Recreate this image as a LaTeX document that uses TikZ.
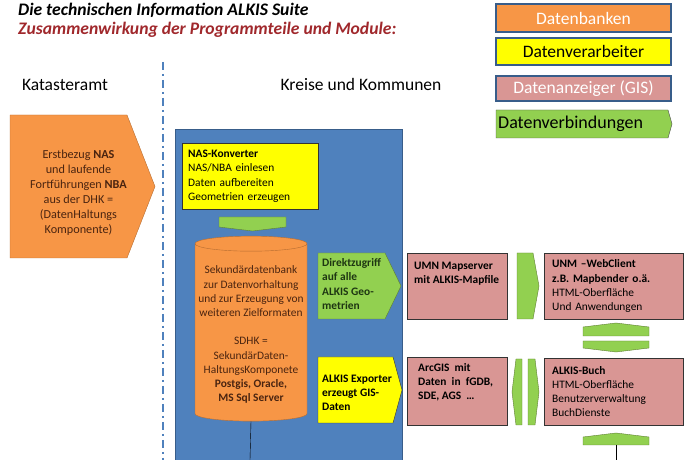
\documentclass[tikz,border=0pt]{standalone}
\usepackage{fontspec}
\setmainfont{Carlito}
\usetikzlibrary{shapes.geometric}

\definecolor{dbfill}{HTML}{F79646}
\definecolor{dbline}{HTML}{B66D31}
\definecolor{procfill}{HTML}{FFFF00}
\definecolor{gisfill}{HTML}{D99694}
\definecolor{linkfill}{HTML}{92D050}
\definecolor{linkline}{HTML}{5F7F33}
\definecolor{areafill}{HTML}{4F81BD}
\definecolor{arealine}{HTML}{385D8A}
\definecolor{titlered}{HTML}{A0282C}
\definecolor{dbtext}{HTML}{4A2410}
\definecolor{linktext}{HTML}{1E3612}

\tikzset{
  small/.style={font=\fontsize{11.4}{14.2}\selectfont},
  smallbold/.style={font=\fontsize{11.4}{14.2}\selectfont\bfseries},
  large/.style={font=\fontsize{17.5}{20}\selectfont},
  headline/.style={anchor=west,inner sep=0pt,font=\fontsize{17.6}{20}\selectfont\bfseries\itshape},
  legendbox/.style={draw=arealine,line width=1.2pt,minimum width=175pt,inner sep=0pt,large},
  gisbox/.style={draw=black!80,fill=gisfill,anchor=north west,inner sep=0pt},
  linkshape/.style={draw=linkline,fill=linkfill,line join=miter},
  arrowtext/.style={anchor=west,align=left,inner sep=0pt},
}

\begin{document}
\begin{tikzpicture}[x=1pt,y=1pt]
  \useasboundingbox (0,0) rectangle (690,460);

  % title
  \node[headline] (title) at (18,450) {Die technischen Information ALKIS Suite};
  \node[headline,text=titlered] (subtitle) at (18,430) {Zusammenwirkung der Programmteile und Module:};

  % legend
  \node[legendbox,fill=dbfill,text=white,minimum height=28pt] (lgdb) at (583.5,442) {Datenbanken};
  \node[legendbox,fill=procfill,minimum height=27pt] (lgproc) at (583.5,408.5) {Datenverarbeiter};
  \node[legendbox,fill=gisfill,text=white,minimum height=25pt] (lggis) at (583.5,371.5) {Datenanzeiger (GIS)};
  \draw[linkshape,draw=black!70] (496,350) -- (668,350) -- (672,336) -- (668,322) -- (496,322) -- cycle;
  \node[arrowtext,font=\fontsize{18}{20}\selectfont] (lglinktext) at (498,336) {Datenverbindungen};

  % areas
  \node[large] (kataster) at (65,375) {Katasteramt};
  \node[large] (kreise) at (361,376) {Kreise und Kommunen};
  \draw[areafill,line width=2.5pt,dash pattern=on 8pt off 4pt on 2pt off 4pt] (163,398) -- (163,0);

  \draw[draw=dbline,fill=dbfill] (10,345) -- (127,345) -- (155,273.5) -- (127,202) -- (10,202) -- cycle;
  \node[text=dbtext,align=center,font=\fontsize{12.2}{15}\selectfont] (sourcetext) at (78.5,267.5)
    {Erstbezug \textbf{NAS}\\und laufende\\Fortführungen \textbf{NBA}\\aus der DHK =\\(DatenHaltungs\\Komponente)};

  \node[draw=arealine,fill=areafill,line width=1pt,minimum width=227pt,minimum height=335pt,
    anchor=north west,inner sep=0pt] (kreisarea) at (175,331) {};

  % converter and database
  \node[draw=black!80,fill=procfill,minimum width=136pt,minimum height=66pt,anchor=north west,
    text width=124pt,align=left,inner xsep=6pt,small] (converter) at (182,317)
    {\textbf{NAS-Konverter}\\NAS/NBA einlesen\\Daten aufbereiten\\Geometrien erzeugen};
  \draw[linkshape] (219,243) -- (286,243) -- (286,233) -- (252.5,229) -- (219,233) -- cycle;
  \node[cylinder,shape border rotate=90,aspect=0.143,draw=dbline,fill=dbfill,
    minimum width=112pt,minimum height=185pt,inner sep=0pt,text=dbtext,align=center,small]
    (sdhk) at (251,127.5)
    {\mbox{}\\[-2pt]Sekundärdatenbank\\zur Datenvorhaltung\\und zur Erzeugung von\\weiteren Zielformaten\\[14.2pt]
     SDHK =\\SekundärDaten-\\HaltungsKomponete\\\textbf{Postgis, Oracle,}\\\textbf{MS Sql Server}};
  \coordinate (sdhkend) at (250,0);
  \draw (sdhk.south) -- (sdhkend);

  \draw[linkshape] (318,207) -- (385,207) -- (401,174) -- (385,141) -- (318,141) -- cycle;
  \node[arrowtext,smallbold,text=linktext] (directtext) at (322,176)
    {Direktzugriff\\auf alle\\ALKIS Geo-\\metrien};
  \draw[draw=black!80,fill=procfill] (318,103) -- (393,103) -- (402,70) -- (393,37) -- (318,37) -- cycle;
  \node[arrowtext,smallbold] (exportertext) at (322,67) {ALKIS Exporter\\erzeugt GIS-\\Daten};

  % viewers
  \node[gisbox,minimum width=100pt,minimum height=66pt] (mapserver) at (407,207) {};
  \node[smallbold,anchor=north west,align=left,inner sep=0pt] (mapservertext)
    at ([shift={(7pt,-9pt)}]mapserver.north west) {UMN Mapserver\\mit ALKIS-Mapfile};
  \draw[linkshape] (517,207) -- (533,207) -- (539,174) -- (533,141) -- (517,141) -- cycle;
  \node[gisbox,minimum width=139pt,minimum height=66pt,text width=123pt,inner xsep=8pt,
    align=left,small] (webclient) at (544,207)
    {\textbf{UNM –WebClient}\\\textbf{z.B. Mapbender o.ä.}\\HTML-Oberfläche\\Und Anwendungen};
  \draw[linkshape] (583,124) -- (583,133) -- (616,137) -- (649,133) -- (649,124) -- cycle;
  \draw[linkshape] (583,119) -- (649,119) -- (649,112) -- (616,108) -- (583,112) -- cycle;

  \node[gisbox,minimum width=100pt,minimum height=68pt] (arcgis) at (407,103) {};
  \node[smallbold,anchor=north west,align=left,inner sep=0pt] (arcgistext)
    at ([shift={(11pt,-6pt)}]arcgis.north west) {ArcGIS\ \ mit\\Daten\ \ in\ \ fGDB,\\SDE, AGS\ \ …};
  \draw[linkshape] (522,101) -- (522,35) -- (516,35) -- (512,68) -- (516,101) -- cycle;
  \draw[linkshape] (528,101) -- (535,101) -- (539,68) -- (535,35) -- (528,35) -- cycle;
  \node[gisbox,minimum width=139pt,minimum height=67pt,text width=123pt,inner xsep=8pt,
    align=left,small] (buch) at (544,102)
    {\textbf{ALKIS-Buch}\\HTML-Oberfläche\\Benutzerverwaltung\\BuchDienste};
  \draw[linkshape] (583,15) -- (583,23) -- (616,27) -- (649,23) -- (649,15) -- cycle;
  \coordinate (upbuchfoot) at (616,15);
  \coordinate (buchend) at (616,0);
  \draw (upbuchfoot) -- (buchend);
\end{tikzpicture}
\end{document}
